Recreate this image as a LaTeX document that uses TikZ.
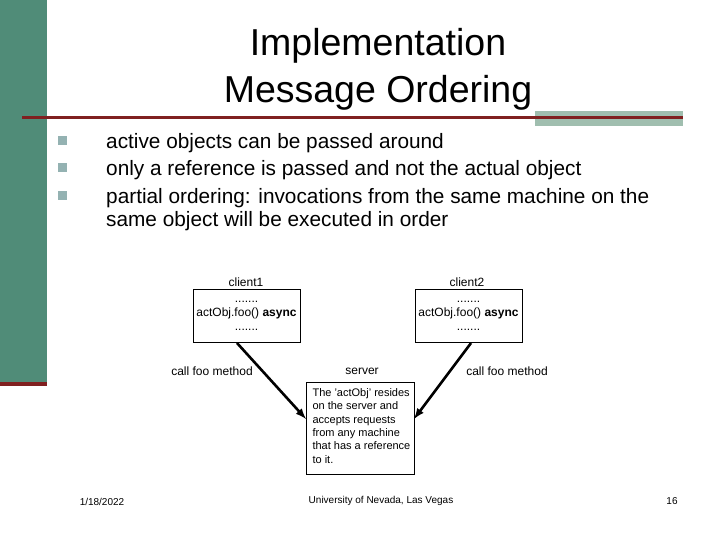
\documentclass[tikz,border=0pt]{standalone}
\usepackage{fontspec}
\setmainfont{Liberation Sans}
\begin{document}
\begin{tikzpicture}[x=1pt,y=-1pt,
  box/.style={draw,semithick,inner sep=0pt},
  small/.style={font=\fontsize{12}{14}\selectfont},
  bul/.style={fill=teal!40!gray!60,minimum size=9pt,inner sep=0pt},
  btxt/.style={anchor=west,font=\fontsize{20.8}{23}\selectfont,inner sep=0pt},
  arr/.style={line width=2.6pt,-latex}]
\useasboundingbox (0,0) rectangle (720,540);
\definecolor{bar}{RGB}{80,140,120}
\definecolor{dred}{RGB}{128,32,32}
\definecolor{gg}{RGB}{160,190,175}
\fill[bar] (0,0) rectangle (47,383);
\fill[dred] (0,382) rectangle (47,386);
\fill[gg] (535,111) rectangle (683,126);
\fill[dred] (22,116) rectangle (683,119);
\node[align=center,font=\fontsize{37.5}{47}\selectfont] (title) at (378,69) {Implementation\\Message Ordering};
\foreach \y/\t [count=\i] in {141/active objects can be passed around,168/only a reference is passed and not the actual object,196/partial ordering: invocations from the same machine on the}{
  \node[bul] (b\i) at (62,\y) {};
  \node[btxt] (t\i) at (106,\y+2) {\t};
}
\node[btxt] (t4) at (106,221) {same object will be executed in order};
\node[box,minimum width=107pt,minimum height=53pt] (c1) at (246.5,315.5) {};
\node[small,align=center] (c1t) at (c1) {.......\\actObj.foo() \textbf{async}\\.......};
\node[box,minimum width=107pt,minimum height=53pt] (c2) at (468.5,315.5) {};
\node[small,align=center] (c2t) at (c2) {.......\\actObj.foo() \textbf{async}\\.......};
\node[small] (l1) at (246,282) {client1};
\node[small] (l2) at (467,282) {client2};
\node[box,minimum width=108pt,minimum height=92pt] (s) at (360,428) {};
\node[small] (ls) at (362,371) {server};
\node[align=left,anchor=north west,font=\fontsize{11}{13.3}\selectfont] (st) at (309,385) {The 'actObj' resides\\on the server and\\accepts requests\\from any machine\\that has a reference\\to it.};
\node[small] (m1) at (212,371) {call foo method};
\node[small] (m2) at (507,371) {call foo method};
\coordinate (a1) at (237,343); \coordinate (e1) at (306,419);
\coordinate (a2) at (471,343); \coordinate (e2) at (414,419);
\draw[arr] (a1) -- (e1);
\draw[arr] (a2) -- (e2);
\node[font=\fontsize{10}{11}\selectfont] (d) at (102,502) {1/18/2022};
\node[font=\fontsize{10}{11}\selectfont] (u) at (381,501) {University of Nevada, Las Vegas};
\node[font=\fontsize{10}{11}\selectfont] (p) at (672,501) {16};
\end{tikzpicture}
\end{document}
